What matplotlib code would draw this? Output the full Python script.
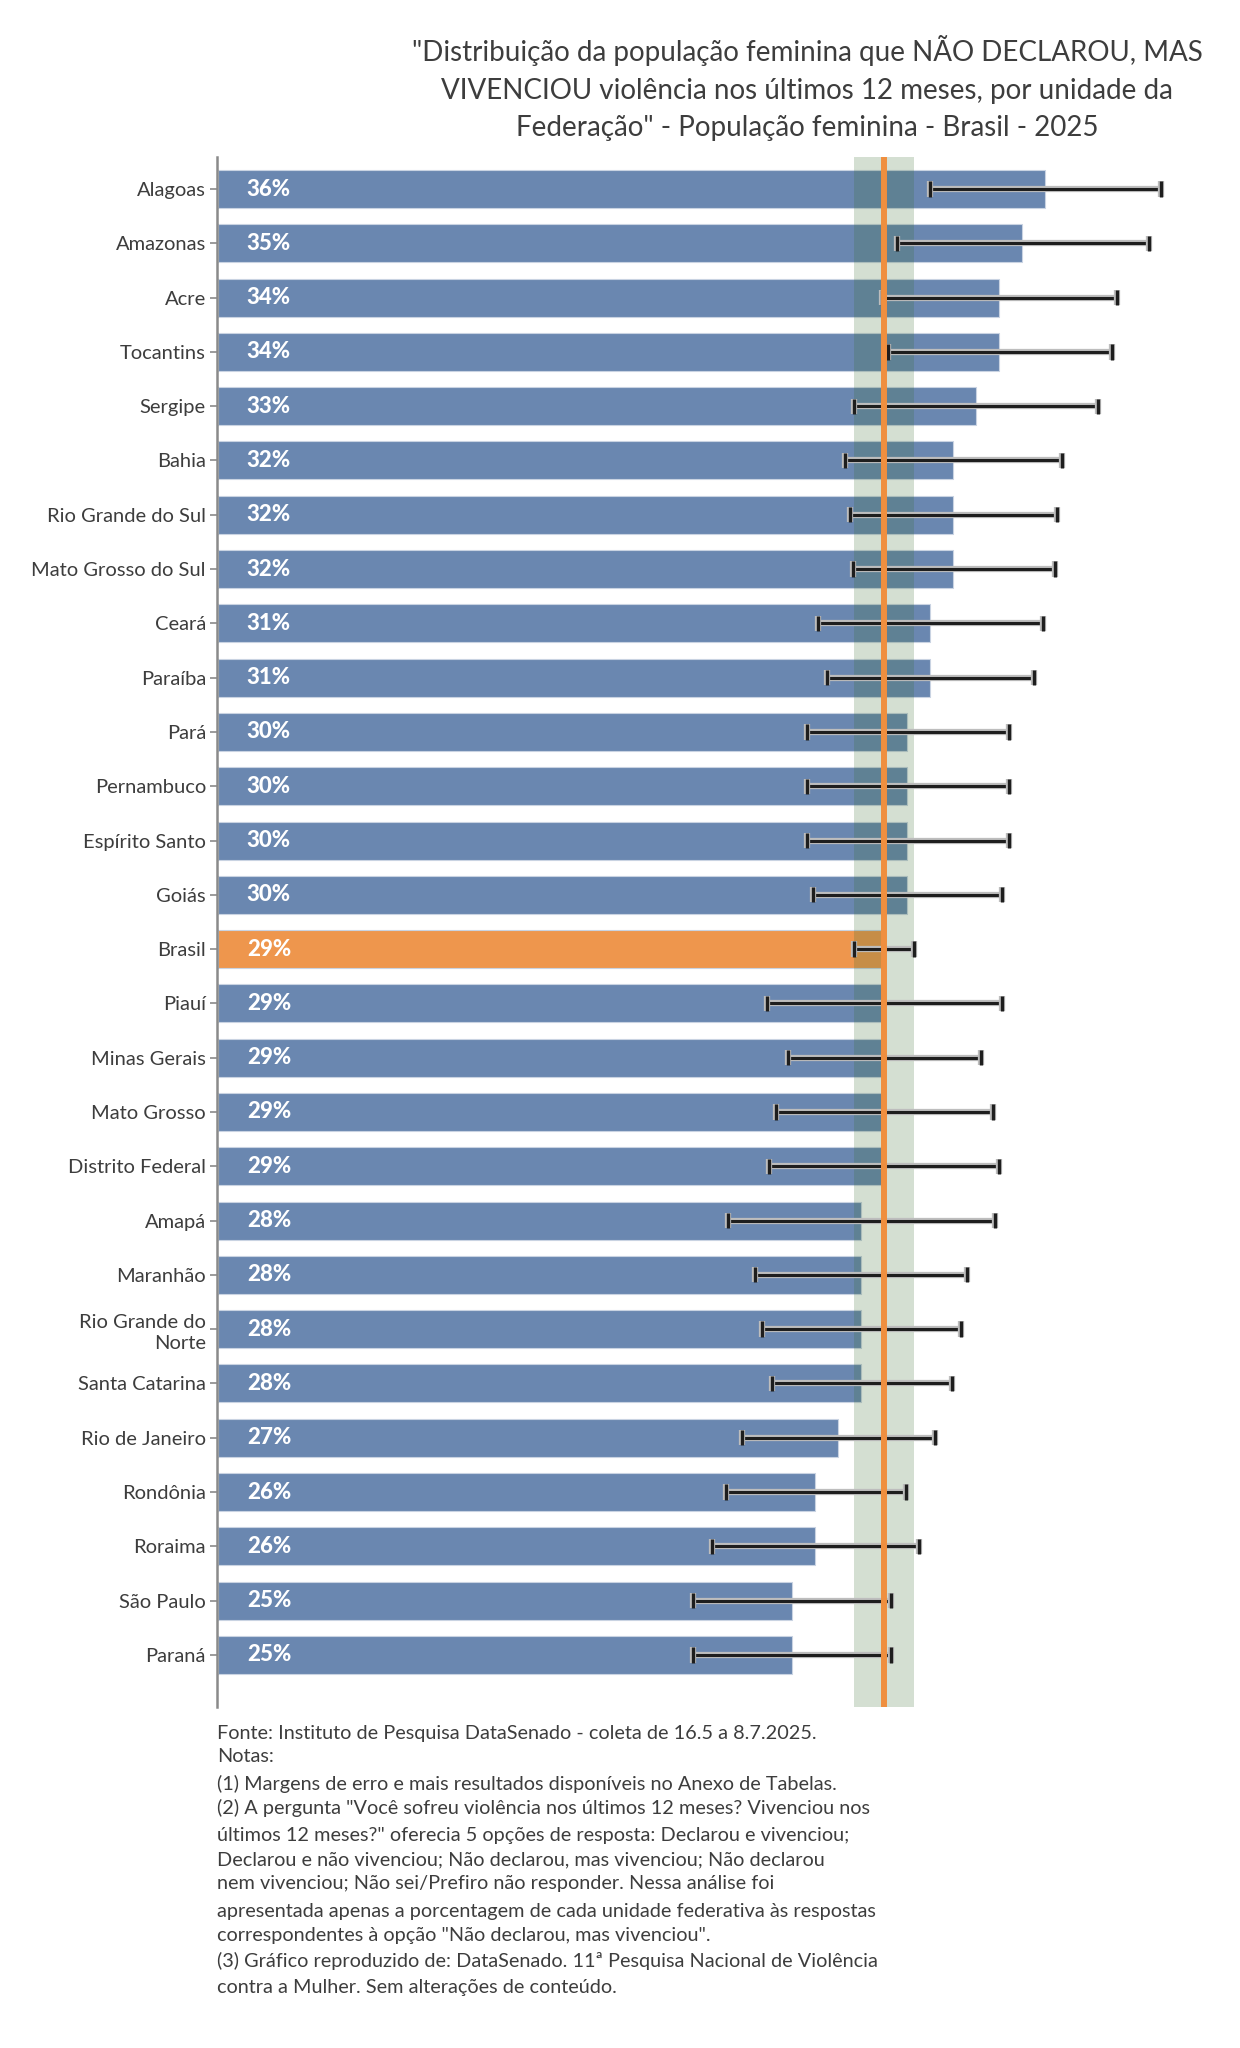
import numpy as np
import matplotlib
matplotlib.use("Agg")
import matplotlib.pyplot as plt
import matplotlib.patheffects as pe

# ----- Data -----
states = [
    "Alagoas", "Amazonas", "Acre", "Tocantins", "Sergipe", "Bahia",
    "Rio Grande do Sul", "Mato Grosso do Sul", "Ceará", "Paraíba", "Pará",
    "Pernambuco", "Espírito Santo", "Goiás", "Brasil", "Piauí",
    "Minas Gerais", "Mato Grosso", "Distrito Federal", "Amapá", "Maranhão",
    "Rio Grande do\nNorte", "Santa Catarina", "Rio de Janeiro", "Rondônia",
    "Roraima", "São Paulo", "Paraná",
]
values = [36, 35, 34, 34, 33, 32, 32, 32, 31, 31, 30, 30, 30, 30, 29,
          29, 29, 29, 29, 28, 28, 28, 28, 27, 26, 26, 25, 25]
ci_low = [30.98, 29.53, 28.88, 29.17, 27.69, 27.28, 27.50, 27.62, 26.10, 26.49,
          25.62, 25.62, 25.62, 25.90, 27.69, 23.88, 24.79, 24.28, 23.99, 22.21,
          23.37, 23.69, 24.09, 22.79, 22.11, 21.48, 20.68, 20.68]
ci_high = [41.04, 40.53, 39.11, 38.92, 38.31, 36.74, 36.52, 36.42, 35.91, 35.52,
           34.42, 34.42, 34.42, 34.10, 30.30, 34.13, 33.20, 33.71, 34.00, 33.81,
           32.61, 32.32, 31.93, 31.21, 29.93, 30.52, 29.30, 29.30]
national = "Brasil"

title = ('"Distribuição da população feminina que NÃO DECLAROU, MAS\n'
         'VIVENCIOU violência nos últimos 12 meses, por unidade da\n'
         'Federação" - População feminina - Brasil - 2025')
footer = [
    "Fonte: Instituto de Pesquisa DataSenado - coleta de 16.5 a 8.7.2025.",
    "Notas:",
    "(1) Margens de erro e mais resultados disponíveis no Anexo de Tabelas.",
    '(2) A pergunta "Você sofreu violência nos últimos 12 meses? Vivenciou nos',
    'últimos 12 meses?" oferecia 5 opções de resposta: Declarou e vivenciou;',
    "Declarou e não vivenciou; Não declarou, mas vivenciou; Não declarou",
    "nem vivenciou; Não sei/Prefiro não responder. Nessa análise foi",
    "apresentada apenas a porcentagem de cada unidade federativa às respostas",
    'correspondentes à opção "Não declarou, mas vivenciou".',
    "(3) Gráfico reproduzido de: DataSenado. 11ª Pesquisa Nacional de Violência",
    "contra a Mulher. Sem alterações de conteúdo.",
]
footer_y = [1733, 1757, 1784, 1808, 1835, 1860, 1883, 1912, 1935, 1961, 1987]

# ----- Style -----
blue = "#6a87b0"
orange = "#ee964d"
text_col = "#3d3d3d"
plt.rcParams["font.family"] = ["Lato", "DejaVu Sans"]

W, H = 1240, 2048
fig = plt.figure(figsize=(W / 100, H / 100), dpi=100)
ax = fig.add_axes([217 / W, 1 - 1707 / H, 1012 / W, (1707 - 157) / H])

y = np.arange(len(states))
nat_idx = states.index(national)
colors = [orange if s == national else blue for s in states]

ax.barh(y, values, height=0.7, color=colors, edgecolor="#c9d3e2", linewidth=0.8, zorder=2)

# national confidence band + national value line
ax.axvspan(ci_low[nat_idx], ci_high[nat_idx], color="#3c6e32", alpha=0.22, lw=0, zorder=3)
ax.axvline(values[nat_idx], color="#ef8f3f", lw=4.3, zorder=5)

# error bars (confidence intervals)
lo = np.array(values) - np.array(ci_low)
hi = np.array(ci_high) - np.array(values)
eb = ax.errorbar(values, y, xerr=[lo, hi], fmt="none", ecolor="#1e1e1e",
                 elinewidth=2.2, capsize=5.5, capthick=2.4, zorder=4)
halo = [pe.withStroke(linewidth=4.5, foreground="#bdbdbd")]
for coll in eb.lines[2]:
    coll.set_path_effects(halo)
for cap in eb.lines[1]:
    cap.set_path_effects(halo)

for yi, v in zip(y, values):
    ax.text(1.25, yi, f"{v}%", va="center", ha="left", color="white",
            fontsize=16, fontweight="black", zorder=6)

ax.set_yticks(y)
ax.set_yticklabels(states, fontsize=14.5, color=text_col, linespacing=1.3)
ax.set_ylim(len(states) - 1 + 0.96, -0.59)
ax.set_xlim(-0.05, 44)
ax.set_xticks([])
for side in ["top", "right", "bottom"]:
    ax.spines[side].set_visible(False)
ax.spines["left"].set_color("#8a8a8a")
ax.spines["left"].set_linewidth(1.8)
ax.tick_params(axis="y", length=5, width=1.2, color="#8a8a8a", pad=3)

fig.text(807 / W, 1 - 88 / H, title, ha="center", va="center", fontsize=20,
         color=text_col, linespacing=1.55)

for line, yy in zip(footer, footer_y):
    fig.text(217 / W, 1 - yy / H, line, ha="left", va="center", fontsize=14.3,
             color=text_col)

fig.savefig("out.png", dpi=100)
